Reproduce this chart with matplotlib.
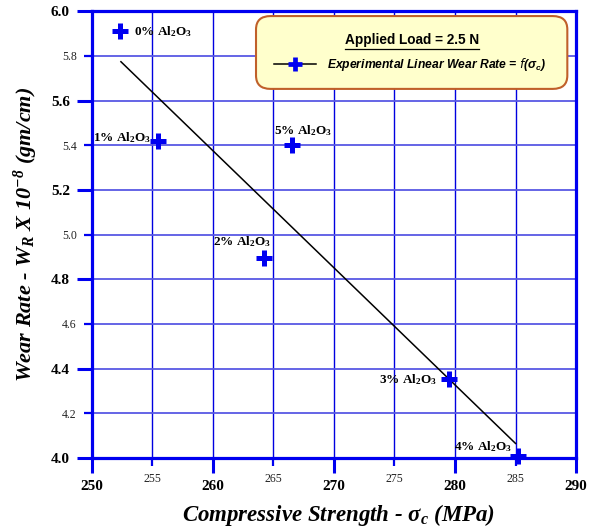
import numpy as np
import matplotlib
matplotlib.use("Agg")
import matplotlib.pyplot as plt
from matplotlib.patches import FancyBboxPatch
from matplotlib.lines import Line2D

# Al2O3 content, compressive strength (MPa) and wear rate (x 1e-8 gm/cm)
labels = ["0%", "1%", "2%", "5%", "3%", "4%"]
strength = [252.3, 255.5, 264.2, 266.5, 279.5, 285.2]
wear = [5.91, 5.42, 4.895, 5.40, 4.353, 4.01]

# label placement next to each point, in pixels
label_offsets = [(14, 0, "left"), (-7, 3, "right"), (-22, 16, "center"),
                 (12, 15, "center"), (-12, 0, "right"), (-6, 9, "right")]

x_major = [250, 260, 270, 280, 290]
x_minor = [255, 265, 275, 285]
y_major = [4.0, 4.4, 4.8, 5.2, 5.6, 6.0]
y_minor = [4.2, 4.6, 5.0, 5.4, 5.8]

BLUE = "#0000F0"
SERIF = ["Liberation Serif", "DejaVu Serif"]
SANS = ["Liberation Sans", "DejaVu Sans"]

fig = plt.figure(figsize=(5.89, 5.31), dpi=100)
ax = fig.add_axes([0.156, 0.1375, 0.822, 0.8415])

ax.set_xlim(250, 290)
ax.set_ylim(4.0, 6.0)

# linear fit through the measurements
k, b = np.polyfit(strength, wear, 1)
xf = np.array([252.4, 285.0])
ax.plot(xf, k * xf + b, color="black", lw=1.1, zorder=3)

ax.plot(strength, wear, ls="none", marker="+", ms=11, mew=3.6,
        color=BLUE, zorder=4, clip_on=False)

for lab, x, y, (dx, dy, ha) in zip(labels, strength, wear, label_offsets):
    ax.annotate(lab + r" Al$\mathregular{_2}$O$\mathregular{_3}$", (x, y),
                xytext=(dx, dy), textcoords="offset pixels", ha=ha,
                va="center", fontsize=9.5, fontweight="bold", family=SERIF,
                zorder=5)

# ticks: bold majors, lighter minors
ax.set_xticks(x_major)
ax.set_xticks(x_minor, minor=True)
ax.set_yticks(y_major)
ax.set_yticks(y_minor, minor=True)
ax.set_xticklabels([str(v) for v in x_major], fontweight="bold",
                   fontsize=11, family=SERIF)
ax.set_xticklabels([str(v) for v in x_minor], minor=True, fontsize=8.5,
                   family=SERIF, color="#222222")
ax.set_yticklabels([f"{v:.1f}" for v in y_major], fontweight="bold",
                   fontsize=11, family=SERIF)
ax.set_yticklabels([f"{v:.1f}" for v in y_minor], minor=True, fontsize=8.5,
                   family=SERIF, color="#222222")
ax.tick_params(which="major", length=10.8, width=2.2, color=BLUE, pad=5)
ax.tick_params(which="minor", length=5.8, width=1.6, color=BLUE, pad=5)

# vertical grid dark and thin, horizontal grid lighter
ax.xaxis.grid(True, which="both", color="#0000E0", lw=1.0)
ax.yaxis.grid(True, which="both", color="#5858E4", lw=1.3)
ax.set_axisbelow(True)
for sp in ax.spines.values():
    sp.set_color(BLUE)
    sp.set_linewidth(2.3)

ax.set_xlabel(r"Compressive Strength - σ$\mathregular{_c}$ (MPa)",
              fontsize=16.5, fontweight="bold", style="italic", family=SERIF)
ax.xaxis.set_label_coords(0.51, -0.098)
ax.set_ylabel(r"Wear Rate - W$\mathregular{_R}$ X 10$\mathregular{^{-8}}$ (gm/cm)",
              fontsize=16, fontweight="bold", style="italic", family=SERIF,
              labelpad=8)

# legend panel
box = FancyBboxPatch((0.339, 0.826), 0.643, 0.163, transform=ax.transAxes,
                     boxstyle="round,pad=0,rounding_size=0.03",
                     facecolor="#FFFFCC", edgecolor="#C0602A", lw=1.5,
                     zorder=6)
ax.add_patch(box)
title = ax.text(0.661, 0.935, "Applied Load = 2.5 N", transform=ax.transAxes,
                ha="center", va="center", fontsize=9.8, fontweight="bold",
                family=SANS, zorder=7)
ax.add_line(Line2D([0.377, 0.462], [0.881, 0.881], transform=ax.transAxes,
                   color="black", lw=1.1, zorder=7))
ax.plot([0.4195], [0.881], transform=ax.transAxes, marker="+", ms=10,
        mew=3.4, color=BLUE, zorder=8)
ax.text(0.486, 0.881, r"Experimental Linear Wear Rate = $f$(σ$\mathregular{_c}$)",
        transform=ax.transAxes, ha="left", va="center", fontsize=8.7,
        fontweight="bold", style="italic", family=SANS, zorder=7)

# underline the legend title
fig.canvas.draw()
bb = title.get_window_extent().transformed(ax.transAxes.inverted())
ax.add_line(Line2D([bb.x0, bb.x1], [bb.y0 - 0.004, bb.y0 - 0.004],
                   transform=ax.transAxes, color="black", lw=0.9, zorder=7))

fig.savefig("out.png", dpi=100)
